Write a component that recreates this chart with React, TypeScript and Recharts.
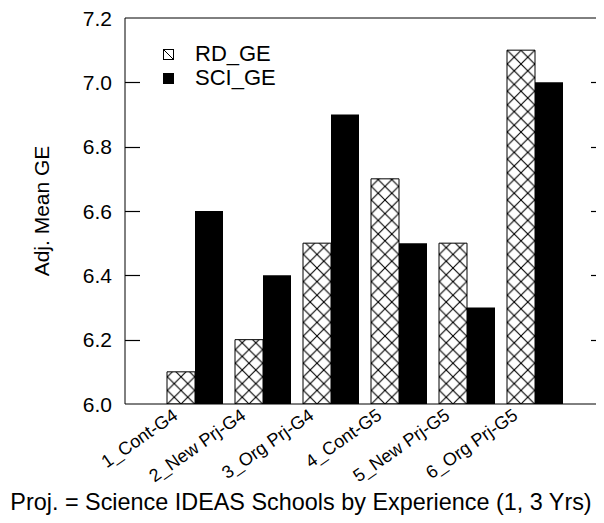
import React from "react";
import { BarChart, Bar, XAxis, YAxis, ReferenceLine, Label } from "recharts";

const groups = ["1_Cont-G4", "2_New Prj-G4", "3_Org Prj-G4", "4_Cont-G5", "5_New Prj-G5", "6_Org Prj-G5"];
const rdGE = [6.1, 6.2, 6.5, 6.7, 6.5, 7.1];
const sciGE = [6.6, 6.4, 6.9, 6.5, 6.3, 7.0];
const yTicks = [6.0, 6.2, 6.4, 6.6, 6.8, 7.0, 7.2];
const innerTicks = [6.2, 6.4, 6.6, 6.8, 7.0];
const seriesNames = ["RD_GE", "SCI_GE"];

const data = groups.map((name, i) => ({ name, RD_GE: rdGE[i], SCI_GE: sciGE[i] }));

const FONT = '"Liberation Sans", Arial, Helvetica, sans-serif';

const LeftTick = (props: any) => {
  const x = Number(props.x);
  const y = Number(props.y);
  const v = Number(props.payload.value);
  return (
    <text x={x} y={y} dy="0.36em" textAnchor="end" fontSize={21} fontFamily={FONT} fill="#000">
      {v.toFixed(1)}
    </text>
  );
};

const XTick = (props: any) => {
  const ax = Number(props.x) - 16;
  const ay = Number(props.y);
  return (
    <text
      x={ax}
      y={ay}
      textAnchor="end"
      fontSize={18}
      fontFamily={FONT}
      fill="#000"
      transform={`rotate(-35, ${ax}, ${ay})`}
    >
      {props.payload.value}
    </text>
  );
};

// short inward marks at both ends of a horizontal reference line
const InwardTicks = (props: any) => {
  const x1 = Math.min(Number(props.x1), Number(props.x2));
  const x2 = Math.max(Number(props.x1), Number(props.x2));
  const y = Math.round(Number(props.y1)) + 0.5;
  return (
    <g>
      <path d={`M${x1},${y}H${x1 + 15}`} stroke="#000" strokeWidth={1.2} fill="none" />
      <path d={`M${x2 - 14},${y}H${x2}`} stroke="#000" strokeWidth={1.2} fill="none" />
    </g>
  );
};

const LegendBox = () => (
  <div
    style={{
      position: "absolute",
      left: 155,
      top: 34,
      fontFamily: FONT,
      fontSize: 22,
      lineHeight: "24px",
      color: "#000",
    }}
  >
    {seriesNames.map((s, i) => (
      <div key={s} style={{ display: "flex", alignItems: "center" }}>
        <svg width={11} height={11} style={{ display: "block" }}>
          {i === 0 ? (
            <g>
              <rect x={0.5} y={0.5} width={10} height={10} fill="#fff" stroke="#000" />
              <line x1={0.5} y1={0.5} x2={10.5} y2={10.5} stroke="#000" />
            </g>
          ) : (
            <rect x={0} y={0} width={11} height={11} fill="#000" />
          )}
        </svg>
        <span style={{ marginLeft: 21 }}>{s}</span>
      </div>
    ))}
  </div>
);

export default function App() {
  return (
    <div style={{ position: "relative", width: 596, height: 515, overflow: "hidden" }}>
      <BarChart
        width={600}
        height={515}
        data={data}
        margin={{ top: 10, right: 3, left: 0, bottom: 0 }}
        barGap={0}
        barCategoryGap={6}
      >
        <defs>
          <pattern id="xhatch" patternUnits="userSpaceOnUse" x={166.2} y={389.2} width={13.6} height={13.6}>
            <rect width={13.6} height={13.6} fill="#fff" />
            <line x1={0} y1={0} x2={13.6} y2={13.6} stroke="#000" strokeWidth={1.1} />
            <line x1={13.6} y1={0} x2={0} y2={13.6} stroke="#000" strokeWidth={1.1} />
          </pattern>
        </defs>
        <XAxis
          dataKey="name"
          height={119}
          padding={{ left: 36, right: 36 }}
          tickLine={false}
          tickSize={0}
          tickMargin={14}
          tick={<XTick />}
          interval={0}
          axisLine={{ stroke: "#000", strokeWidth: 1 }}
        >
          <Label
            content={() => (
              <text x={293} y={502} textAnchor="middle" fontSize={23.4} fontFamily={FONT} fill="#000">
                Proj. = Science IDEAS Schools by Experience (1, 3 Yrs)
              </text>
            )}
          />
        </XAxis>
        <YAxis
          yAxisId="l"
          width={117}
          domain={[6.0, 7.2]}
          ticks={yTicks}
          allowDataOverflow
          tickLine={false}
          tickSize={0}
          tickMargin={13}
          tick={<LeftTick />}
          axisLine={{ stroke: "#000", strokeWidth: 1 }}
        >
          <Label
            content={(p: any) => {
              const vb = p.viewBox || { y: 10, height: 386 };
              const cy = vb.y + vb.height / 2;
              return (
                <text
                  x={41}
                  y={cy}
                  textAnchor="middle"
                  fontSize={21}
                  fontFamily={FONT}
                  fill="#000"
                  transform={`rotate(-90, 41, ${cy})`}
                >
                  Adj. Mean GE
                </text>
              );
            }}
          />
        </YAxis>
        <ReferenceLine yAxisId="l" y={7.2} stroke="#000" strokeWidth={1} />
        {innerTicks.map((t) => (
          <ReferenceLine key={t} yAxisId="l" y={t} ifOverflow="visible" shape={<InwardTicks />} />
        ))}
        <Bar dataKey="RD_GE" yAxisId="l" fill="url(#xhatch)" stroke="#000" strokeWidth={1} isAnimationActive={false} />
        <Bar dataKey="SCI_GE" yAxisId="l" fill="#000" isAnimationActive={false} />
      </BarChart>
      <LegendBox />
    </div>
  );
}
